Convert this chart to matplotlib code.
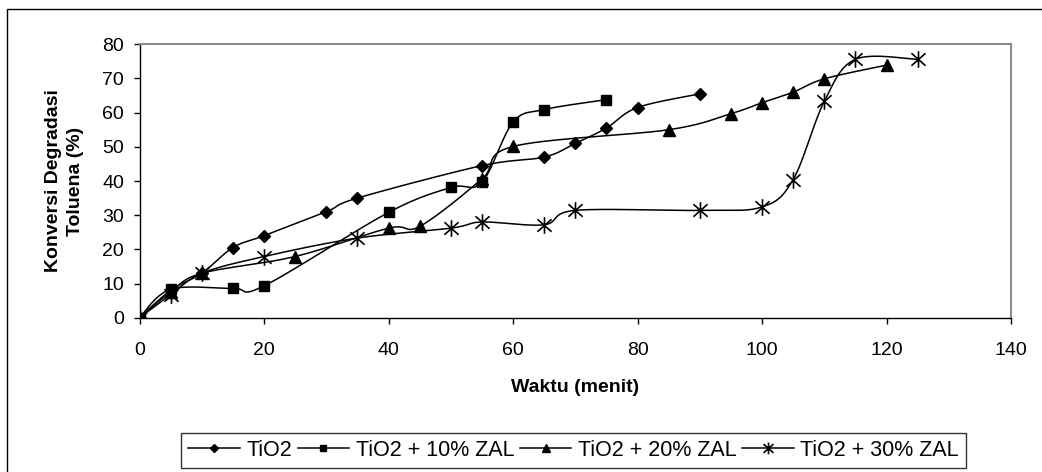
import numpy as np
import matplotlib
matplotlib.use("Agg")
import matplotlib.pyplot as plt
from matplotlib.path import Path
from matplotlib.patches import Rectangle

plt.rcParams["font.family"] = ["Liberation Sans", "DejaVu Sans"]

# data
t_tio2 = [0, 5, 10, 15, 20, 30, 35, 55, 65, 70, 75, 80, 90]
y_tio2 = [0, 8, 13, 20.5, 24, 31, 35, 44.5, 47, 51, 55.5, 61.5, 65.5]

t_zal10 = [0, 5, 15, 20, 40, 50, 55, 60, 65, 75]
y_zal10 = [0, 8.3, 8.6, 9.3, 30.8, 38.1, 39.6, 57.2, 60.9, 63.8]

t_zal20 = [0, 5, 10, 25, 40, 45, 55, 60, 85, 95, 100, 105, 110, 120]
y_zal20 = [0, 7.5, 13, 17.9, 26.2, 26.7, 40.6, 50.1, 55, 59.7, 62.9, 66, 69.9, 73.9]

t_zal30 = [0, 5, 10, 20, 35, 50, 55, 65, 70, 90, 100, 105, 110, 115, 125]
y_zal30 = [0, 6.7, 13, 17.9, 23.3, 26.2, 28, 27.2, 31.4, 31.4, 32.4, 40.4, 63.3, 75.6, 75.6]

labels = ["TiO2", "TiO2 + 10% ZAL", "TiO2 + 20% ZAL", "TiO2 + 30% ZAL"]
x_ticks = [0, 20, 40, 60, 80, 100, 120, 140]
y_ticks = [0, 10, 20, 30, 40, 50, 60, 70, 80]


def smooth(x, y, n=30):
    """Excel-like smoothed line (Catmull-Rom as cubic Bezier)."""
    x = np.asarray(x, float)
    y = np.asarray(y, float)
    px = np.concatenate([[x[0]], x, [x[-1]]])
    py = np.concatenate([[y[0]], y, [y[-1]]])
    xs, ys = [x[0]], [y[0]]
    s = np.linspace(0, 1, n)[1:]
    for i in range(1, len(px) - 2):
        p0 = np.array([px[i], py[i]])
        p3 = np.array([px[i + 1], py[i + 1]])
        c1 = p0 + (p3 - np.array([px[i - 1], py[i - 1]])) / 6
        c2 = p3 - (np.array([px[i + 2], py[i + 2]]) - p0) / 6
        b = ((1 - s) ** 3)[:, None] * p0 + (3 * (1 - s) ** 2 * s)[:, None] * c1 \
            + (3 * (1 - s) * s ** 2)[:, None] * c2 + (s ** 3)[:, None] * p3
        xs.extend(b[:, 0])
        ys.extend(b[:, 1])
    return xs, ys


# excel-style star: vertical bar plus an X
star = Path(
    [(0, -1), (0, 1), (-0.85, -0.75), (0.85, 0.75), (-0.85, 0.75), (0.85, -0.75)],
    [Path.MOVETO, Path.LINETO, Path.MOVETO, Path.LINETO, Path.MOVETO, Path.LINETO],
)

fig = plt.figure(figsize=(10.42, 4.72), dpi=100)
ax = fig.add_axes([139.5 / 1042, 1 - 317.7 / 472, (1011 - 139.5) / 1042, (317.7 - 44.3) / 472])

series = [
    (t_tio2, y_tio2, "D", 6.3, 1.0),
    (t_zal10, y_zal10, "s", 7.0, 1.0),
    (t_zal20, y_zal20, "^", 8.5, 1.0),
    (t_zal30, y_zal30, star, 12.0, 1.2),
]
handles = []
for (tx, ty, mk, ms, mew), lab in zip(series, labels):
    sx, sy = smooth(tx, ty)
    ax.plot(sx, sy, color="black", lw=1.1, zorder=2)
    ax.plot(tx, ty, ls="none", marker=mk, ms=ms, color="black", mew=mew, zorder=3)
    h, = ax.plot([], [], color="black", lw=1.1, marker=mk, ms=ms, mew=mew)
    handles.append(h)

ax.set_xlim(0, 140)
ax.set_ylim(0, 80)
ax.set_xticks(x_ticks)
ax.set_yticks(y_ticks)
ax.tick_params(direction="out", length=4.2, width=1, labelsize=14, colors="black")
ax.tick_params(axis="x", pad=13.5)
ax.tick_params(axis="y", pad=7)
for side in ["left", "bottom"]:
    ax.spines[side].set_color("black")
    ax.spines[side].set_linewidth(1)
for side in ["top", "right"]:
    ax.spines[side].set_color("#8c8c8c")
    ax.spines[side].set_linewidth(1.5)

ax.set_xlabel("Waktu (menit)", fontsize=14, fontweight="bold", labelpad=14)
ax.set_ylabel("Konversi Degradasi\nToluena (%)", fontsize=14, fontweight="bold",
              linespacing=1.35, labelpad=13)

leg = fig.legend(handles, labels, loc="center", bbox_to_anchor=(573.5 / 1042, 1 - 450.5 / 472),
                 ncol=4, fontsize=15.5, frameon=True, fancybox=False, markerscale=0.7,
                 handlelength=2.4, handletextpad=0.3, columnspacing=0.25,
                 borderpad=0.33, borderaxespad=0)
leg.get_frame().set_edgecolor("black")
leg.get_frame().set_linewidth(1)

# outer chart border (runs off the right and bottom of the image)
fig.patches.append(Rectangle((7.3 / 1042, -0.05), 1.1, 1 - 9 / 472 + 0.05,
                             transform=fig.transFigure, fill=False,
                             edgecolor="black", lw=1, clip_on=False))

fig.savefig("out.png", dpi=100)
